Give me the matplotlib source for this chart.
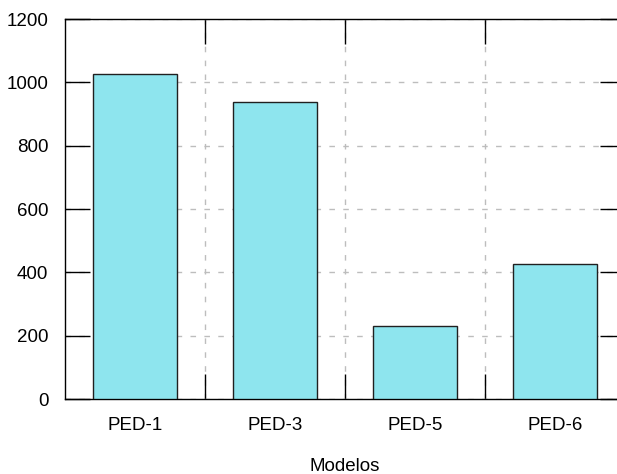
import matplotlib
matplotlib.use('Agg')
import matplotlib.pyplot as plt
from matplotlib import font_manager

# Modelos y valores
modelos = ['PED-1', 'PED-3', 'PED-5', 'PED-6']
valores = [1026, 938, 230, 427]
yticks = [0, 200, 400, 600, 800, 1000, 1200]

names = {f.name for f in font_manager.fontManager.ttflist}
fam = 'Liberation Sans Narrow' if 'Liberation Sans Narrow' in names else 'Liberation Sans'
plt.rcParams['font.family'] = fam
plt.rcParams['font.size'] = 13.5

fig = plt.figure(figsize=(6.17, 4.74), dpi=100)
ax = fig.add_axes([65 / 617, 75 / 474, 560 / 617, 380 / 474])

x = list(range(len(modelos)))
ax.bar(x, valores, width=0.6, color='#8ee5ee', edgecolor='#202020', linewidth=1.0, zorder=3)

ax.set_xlim(-0.5, len(modelos) - 0.5)
ax.set_ylim(0, 1200)
ax.set_yticks(yticks)
ax.set_xticks(x)
ax.set_xticklabels(modelos)
ax.set_xticks([i + 0.5 for i in x[:-1]], minor=True)

ax.tick_params(axis='x', which='major', length=0, pad=13)
ax.tick_params(axis='x', which='minor', direction='in', length=18, width=1.0, top=True, bottom=True)
ax.tick_params(axis='y', which='major', direction='in', length=18, width=1.0, left=True, right=True, pad=12)

ax.grid(True, which='minor', axis='x', linestyle=(0, (4, 6)), color='#bdbdbd', linewidth=1.0, zorder=0)
ax.grid(True, which='major', axis='y', linestyle=(0, (4, 6)), color='#bdbdbd', linewidth=1.0, zorder=0)
ax.grid(False, which='major', axis='x')

for s in ax.spines.values():
    s.set_linewidth(1.0)

ax.set_xlabel('Modelos', labelpad=17)

plt.savefig('out.png', dpi=100)
